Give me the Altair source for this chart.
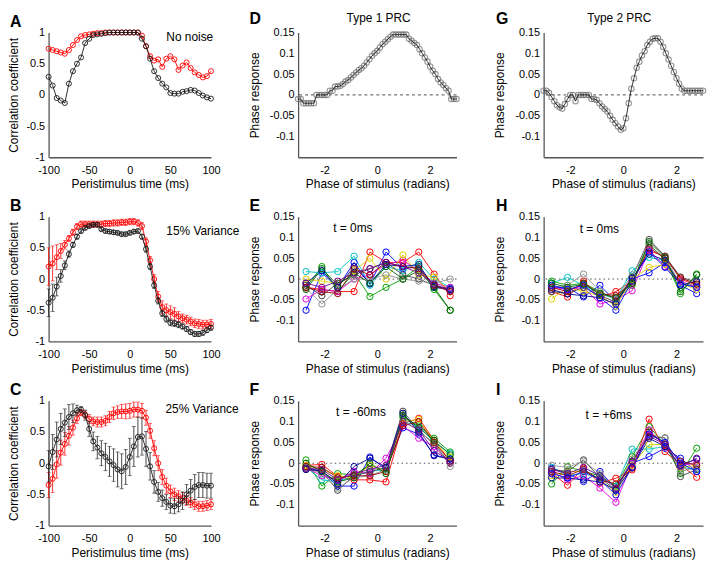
import altair as alt
import pandas as pd

FONT = "Liberation Sans"
RED = "#ff0000"
BLACK = "#1a1a1a"

# ---------------- data ----------------
TIME_MS = list(range(-100, 101, 5))          # peristimulus time grid (ms)
PRC_PHASE = [round(-3.0 + 0.1 * i, 1) for i in range(61)]   # phase grid (rad)
BIN_PHASE = [-2.7, -2.1, -1.5, -0.88, -0.28, 0.33, 0.97, 1.57, 2.15, 2.76]

A_black = [0.29, 0.15, -0.05, -0.09, -0.13, 0.18, 0.38, 0.5, 0.6, 0.83,
           0.9, 0.96, 0.97, 0.98, 0.99, 1.0, 1.0, 1.0, 1.0, 1.0,
           1.0, 1.0, 1.0, 0.9, 0.78, 0.58, 0.38, 0.27, 0.18, 0.12,
           0.03, 0.02, 0.02, 0.05, 0.06, 0.08, 0.07, 0.03, -0.01, -0.04,
           -0.06]
A_red = [0.74, 0.72, 0.7, 0.68, 0.66, 0.72, 0.8, 0.88, 0.94, 0.96,
         0.97, 0.98, 0.99, 0.99, 1.0, 1.0, 1.0, 1.0, 1.0, 1.0,
         1.0, 1.0, 1.0, 0.95, 0.78, 0.62, 0.55, 0.57, 0.45, 0.58,
         0.62, 0.57, 0.4, 0.47, 0.52, 0.43, 0.36, 0.32, 0.28, 0.3,
         0.38]

B_black = [-0.38, -0.3, -0.12, 0.05, 0.22, 0.4, 0.55, 0.68, 0.77, 0.82,
           0.85, 0.87, 0.87, 0.8, 0.77, 0.76, 0.75, 0.74, 0.72, 0.72,
           0.74, 0.76, 0.77, 0.68, 0.48, 0.2, -0.1, -0.35, -0.55, -0.64,
           -0.7, -0.71, -0.73, -0.76, -0.8, -0.85, -0.88, -0.88, -0.86, -0.82,
           -0.78]
B_black_err = [0.22, 0.22, 0.15, 0.1, 0.07, 0.05, 0.04, 0.04, 0.03, 0.03,
               0.03, 0.03, 0.03, 0.03, 0.03, 0.03, 0.03, 0.03, 0.03, 0.03,
               0.03, 0.03, 0.03, 0.04, 0.05, 0.05, 0.05, 0.05, 0.05, 0.05,
               0.05, 0.05, 0.05, 0.04, 0.04, 0.04, 0.04, 0.04, 0.04, 0.04,
               0.04]
B_red = [0.2, 0.25, 0.35, 0.45, 0.55, 0.65, 0.75, 0.84, 0.88, 0.88,
         0.88, 0.88, 0.88, 0.88, 0.89, 0.89, 0.9, 0.9, 0.91, 0.91,
         0.92, 0.92, 0.9, 0.85, 0.6, 0.3, 0.0, -0.28, -0.45, -0.5,
         -0.53, -0.56, -0.6, -0.63, -0.65, -0.68, -0.71, -0.72, -0.73, -0.73,
         -0.72]
B_red_err = [0.3, 0.28, 0.2, 0.12, 0.07, 0.05, 0.05, 0.05, 0.05, 0.05,
             0.05, 0.05, 0.05, 0.05, 0.05, 0.05, 0.05, 0.05, 0.05, 0.05,
             0.05, 0.05, 0.05, 0.06, 0.06, 0.06, 0.07, 0.08, 0.1, 0.1,
             0.1, 0.1, 0.08, 0.07, 0.07, 0.07, 0.07, 0.07, 0.07, 0.07,
             0.07]

C_black = [-0.05, 0.18, 0.38, 0.55, 0.65, 0.74, 0.8, 0.85, 0.86, 0.77,
           0.55, 0.35, 0.25, 0.16, 0.1, 0.03, -0.03, -0.1, -0.13, -0.06,
           0.1, 0.27, 0.42, 0.43, 0.23, -0.05, -0.3, -0.46, -0.56, -0.62,
           -0.68, -0.69, -0.66, -0.6, -0.5, -0.44, -0.38, -0.35, -0.35, -0.36,
           -0.36]
C_black_err = [0.25, 0.28, 0.28, 0.25, 0.22, 0.2, 0.15, 0.08, 0.05, 0.08,
               0.12, 0.15, 0.18, 0.2, 0.22, 0.24, 0.26, 0.28, 0.28, 0.28,
               0.3, 0.32, 0.32, 0.3, 0.28, 0.22, 0.18, 0.15, 0.13, 0.12,
               0.12, 0.12, 0.12, 0.14, 0.16, 0.18, 0.2, 0.2, 0.2, 0.2,
               0.2]
C_red = [-0.35, -0.25, -0.02, 0.17, 0.31, 0.44, 0.57, 0.72, 0.81, 0.78,
         0.71, 0.67, 0.66, 0.66, 0.68, 0.74, 0.8, 0.82, 0.83, 0.83,
         0.84, 0.86, 0.86, 0.84, 0.73, 0.52, 0.24, 0.0, -0.22, -0.36,
         -0.45, -0.5, -0.53, -0.56, -0.6, -0.63, -0.66, -0.69, -0.69, -0.68,
         -0.66]
C_red_err = [0.2, 0.22, 0.22, 0.2, 0.18, 0.15, 0.12, 0.08, 0.05, 0.06,
             0.07, 0.07, 0.08, 0.08, 0.08, 0.09, 0.1, 0.1, 0.11, 0.12,
             0.12, 0.12, 0.12, 0.12, 0.12, 0.12, 0.12, 0.12, 0.12, 0.12,
             0.1, 0.1, 0.09, 0.09, 0.08, 0.08, 0.08, 0.08, 0.08, 0.08,
             0.08]

D_prc = [-0.01, -0.01, -0.02, -0.02, -0.02, -0.02, -0.02, 0.0, 0.0, 0.0,
         0.0, 0.0, 0.01, 0.01, 0.02, 0.02, 0.022, 0.026, 0.032, 0.036,
         0.042, 0.048, 0.054, 0.06, 0.064, 0.07, 0.078, 0.086, 0.094, 0.1,
         0.106, 0.114, 0.122, 0.128, 0.134, 0.14, 0.145, 0.145, 0.145, 0.145,
         0.145, 0.145, 0.135, 0.13, 0.125, 0.12, 0.11, 0.1, 0.09, 0.08,
         0.068, 0.058, 0.05, 0.038, 0.03, 0.024, 0.016, 0.01, -0.01, -0.01,
         -0.01]
G_prc = [0.01, 0.01, 0.005, -0.005, -0.015, -0.025, -0.03, -0.033, -0.022, -0.01,
         0.0, 0.0, -0.015, 0.0, 0.0, 0.0, 0.0, 0.0, -0.01, -0.01,
         -0.012, -0.02, -0.028, -0.034, -0.04, -0.05, -0.06, -0.068, -0.076, -0.084,
         -0.08, -0.056, -0.02, 0.015, 0.04, 0.065, 0.08, 0.095, 0.105, 0.12,
         0.128, 0.135, 0.136, 0.136, 0.128, 0.115, 0.1, 0.085, 0.07, 0.055,
         0.04, 0.027, 0.015, 0.01, 0.01, 0.01, 0.01, 0.01, 0.01, 0.01,
         0.01]

SERIES_COLORS = {
    "blue": "#0000ff", "green": "#00a000", "red": "#ff0000", "cyan": "#00c0c0",
    "magenta": "#e000e0", "yellow": "#e0d000", "darkgray": "#404040",
    "gray": "#909090", "navy": "#000090", "darkred": "#900000",
    "darkgreen": "#006000", "purple": "#700090", "orange": "#ff8000",
}

E_series = {
    "blue":      [-0.075, 0.015, -0.02, 0.04, -0.012, 0.065, 0.025, 0.03, -0.018, -0.022],
    "green":     [-0.02, 0.03, -0.03, 0.015, -0.042, -0.02, 0.0, 0.03, -0.025, -0.075],
    "red":       [-0.02, -0.025, -0.03, -0.03, 0.065, 0.04, 0.04, 0.065, 0.012, -0.04],
    "cyan":      [0.018, 0.015, 0.018, 0.055, -0.015, 0.03, 0.02, 0.04, 0.0, -0.02],
    "magenta":   [-0.048, -0.025, -0.03, 0.0, 0.01, 0.035, 0.045, 0.02, -0.01, -0.02],
    "yellow":    [0.0, -0.005, -0.01, 0.02, 0.05, 0.0, 0.058, 0.01, 0.005, -0.03],
    "darkgray":  [-0.015, -0.04, -0.01, 0.01, 0.025, 0.04, 0.01, 0.0, -0.015, -0.025],
    "gray":      [-0.022, -0.06, -0.025, 0.0, 0.0, 0.01, 0.0, -0.005, -0.01, 0.0],
    "navy":      [-0.01, 0.02, -0.02, 0.03, -0.01, 0.035, 0.03, 0.035, -0.02, -0.025],
    "darkred":   [-0.02, -0.03, -0.035, 0.025, 0.01, 0.04, 0.03, 0.025, -0.015, -0.03],
    "darkgreen": [-0.025, 0.025, -0.015, 0.015, -0.01, 0.03, 0.0, 0.02, -0.02, -0.075],
    "purple":    [-0.01, -0.02, -0.005, 0.015, 0.025, 0.04, 0.03, 0.015, -0.012, -0.028],
}
F_series = {
    "blue":      [-0.01, -0.02, -0.055, -0.055, 0.015, -0.015, 0.085, 0.07, 0.02, 0.01],
    "green":     [0.008, -0.055, -0.025, -0.028, -0.005, -0.02, 0.11, 0.09, 0.06, 0.027],
    "red":       [-0.005, -0.003, -0.032, -0.04, -0.04, -0.045, 0.095, 0.108, 0.055, 0.005],
    "cyan":      [-0.01, -0.04, -0.045, -0.03, -0.02, -0.015, 0.1, 0.09, 0.05, 0.024],
    "magenta":   [-0.012, -0.03, -0.04, -0.02, -0.025, 0.012, 0.09, 0.06, 0.04, 0.0],
    "yellow":    [-0.005, -0.015, -0.03, -0.035, -0.005, -0.02, 0.1, 0.105, 0.05, 0.015],
    "darkgray":  [-0.015, -0.02, -0.065, -0.03, -0.02, -0.01, 0.125, 0.08, 0.045, 0.0],
    "gray":      [-0.01, -0.025, -0.06, -0.035, -0.03, -0.015, 0.12, 0.075, 0.05, -0.008],
    "navy":      [-0.015, -0.018, -0.05, -0.008, 0.012, -0.01, 0.12, 0.075, 0.018, 0.01],
    "darkred":   [-0.008, -0.01, -0.035, -0.03, -0.03, -0.02, 0.09, 0.1, 0.05, 0.005],
    "darkgreen": [0.0, -0.02, -0.045, -0.035, 0.0, -0.025, 0.115, 0.085, 0.055, 0.02],
    "purple":    [-0.012, -0.015, -0.04, -0.025, -0.015, -0.005, 0.1, 0.08, 0.03, 0.005],
}
H_series = {
    "blue":      [-0.02, -0.02, -0.043, -0.015, -0.055, 0.0, 0.015, 0.04, -0.015, -0.035],
    "green":     [-0.005, -0.015, -0.01, -0.03, -0.05, -0.015, 0.085, 0.045, -0.035, 0.012],
    "red":       [-0.03, -0.043, -0.005, -0.045, -0.03, -0.005, 0.068, 0.055, 0.0, -0.015],
    "cyan":      [-0.01, 0.004, -0.015, -0.035, -0.048, 0.02, 0.052, 0.045, -0.01, -0.02],
    "magenta":   [-0.02, -0.025, -0.02, -0.06, -0.05, -0.028, 0.07, 0.03, -0.005, -0.02],
    "yellow":    [-0.048, -0.02, -0.03, -0.04, -0.065, 0.0, 0.028, 0.035, -0.01, -0.025],
    "darkgray":  [-0.03, -0.035, -0.02, -0.04, -0.055, 0.004, 0.095, 0.055, 0.005, -0.008],
    "gray":      [-0.02, -0.015, 0.012, -0.03, -0.05, 0.01, 0.08, 0.05, -0.01, -0.015],
    "navy":      [-0.025, -0.036, -0.04, -0.045, -0.06, 0.002, 0.06, 0.045, -0.015, -0.005],
    "darkred":   [-0.02, -0.03, -0.01, -0.035, -0.04, -0.01, 0.075, 0.05, 0.003, -0.012],
    "orange":    [-0.015, -0.025, -0.015, -0.045, -0.075, -0.005, 0.065, 0.028, -0.012, -0.02],
    "darkgreen": [-0.01, -0.02, -0.012, -0.035, -0.045, -0.01, 0.09, 0.052, -0.03, 0.01],
}
I_series = {
    "blue":      [-0.012, -0.025, -0.044, -0.02, -0.06, 0.0, 0.016, 0.036, 0.012, -0.02],
    "green":     [-0.05, -0.008, -0.02, -0.03, -0.055, 0.016, 0.088, 0.045, -0.025, 0.036],
    "red":       [-0.024, -0.053, -0.012, -0.048, -0.036, -0.016, 0.106, 0.028, -0.004, -0.034],
    "cyan":      [-0.01, -0.03, -0.025, -0.035, -0.055, 0.034, 0.034, 0.04, -0.01, -0.015],
    "magenta":   [-0.02, -0.04, -0.03, -0.06, -0.094, 0.0, 0.08, 0.04, -0.005, 0.0],
    "yellow":    [-0.03, -0.02, -0.02, -0.04, -0.07, -0.005, 0.045, 0.045, -0.01, -0.005],
    "darkgray":  [-0.015, -0.02, 0.008, -0.035, -0.065, 0.005, 0.064, 0.061, -0.032, -0.015],
    "gray":      [-0.005, -0.01, 0.005, -0.025, -0.06, 0.01, 0.07, 0.06, -0.02, -0.01],
    "navy":      [-0.035, -0.036, -0.04, -0.045, -0.064, -0.01, 0.06, 0.04, -0.005, 0.01],
    "darkred":   [-0.02, -0.03, -0.015, -0.04, -0.05, -0.012, 0.075, 0.045, 0.005, -0.005],
    "orange":    [-0.025, -0.035, -0.02, -0.04, -0.076, -0.01, 0.07, 0.05, 0.0, -0.02],
    "purple":    [-0.015, -0.025, -0.01, -0.03, -0.06, 0.005, 0.065, 0.045, -0.008, 0.012],
}

# annotation texts: (text, x, y)
NOTE_A = ("No noise", 45, 0.92)
NOTE_B = ("15% Variance", 45, 0.77)
NOTE_C = ("25% Variance", 44, 0.87)
NOTE_D = ("Type 1 PRC", 0.05, 0.186)
NOTE_G = ("Type 2 PRC", -0.15, 0.186)
NOTE_E = ("t = 0ms", -1.67, 0.123)
NOTE_F = ("t = -60ms", -1.56, 0.123)
NOTE_H = ("t = 0ms", -1.64, 0.12)
NOTE_I = ("t = +6ms", -1.42, 0.117)

# ---------------- layout ----------------
W1, W2, W3, H = 164, 160, 161, 126
MINUS = "replace(datum.label, '\u2212', '-')"

X_TIME_AXIS = alt.Axis(values=[-100, -50, 0, 50, 100], format="d", labelExpr=MINUS,
                       title="Peristimulus time (ms)", labelPadding=7, titlePadding=4)
Y_CORR_AXIS = alt.Axis(values=[-1, -0.5, 0, 0.5, 1], format=".1~f", labelExpr=MINUS,
                       title="Correlation coefficient", titlePadding=5)
X_PH_AXIS = alt.Axis(values=[-2, 0, 2], format="d", labelExpr=MINUS,
                     title="Phase of stimulus (radians)", labelPadding=7, titlePadding=4)
Y_PH_AXIS = alt.Axis(values=[-0.1, -0.05, 0, 0.05, 0.1, 0.15], format=".2~f",
                     labelExpr=MINUS, title="Phase response", titlePadding=8)

T_SCALE = alt.Scale(domain=[-100, 100], nice=False, zero=False)
C_SCALE = alt.Scale(domain=[-1, 1], nice=False, zero=False)
PH_SCALE = alt.Scale(domain=[-3, 3], nice=False, zero=False)
PR_SCALE = alt.Scale(domain=[-0.15, 0.15], nice=False, zero=False)


def letter_title(letter, dx, dy):
    return alt.TitleParams(text=letter, anchor="start", frame="group", dx=dx, dy=dy,
                           offset=4, fontSize=16, fontWeight="bold", font=FONT)


def note_layer(note, xscale, xaxis, yscale, yaxis, align="left"):
    txt, nx, ny = note
    d = pd.DataFrame({"x": [nx], "y": [ny], "label": [txt]})
    return alt.Chart(d).mark_text(align=align, baseline="middle", fontSize=12,
                                  font=FONT, color="#000").encode(
        x=alt.X("x:Q", scale=xscale, axis=xaxis),
        y=alt.Y("y:Q", scale=yscale, axis=yaxis),
        text="label:N")


def corr_panel(letter, red, black, red_err, black_err, note):
    df = pd.DataFrame({"t": TIME_MS, "red": red, "black": black})
    x = alt.X("t:Q", scale=T_SCALE, axis=X_TIME_AXIS)

    def Y(f):
        return alt.Y(f + ":Q", scale=C_SCALE, axis=Y_CORR_AXIS)

    layers = []
    series = [("red", red, red_err, RED), ("black", black, black_err, BLACK)]
    for name, vals, err, col in series:
        if err is not None:
            df[name + "_lo"] = [v - e for v, e in zip(vals, err)]
            df[name + "_hi"] = [v + e for v, e in zip(vals, err)]
            layers.append(alt.Chart(df).mark_errorbar(
                color=col, thickness=0.8, ticks={"size": 4, "thickness": 0.8}).encode(
                x=x, y=Y(name + "_lo"), y2=alt.Y2(name + "_hi:Q")))
        layers.append(alt.Chart(df).mark_line(
            color=col, strokeWidth=0.9,
            point=alt.OverlayMarkDef(filled=False, color=col, size=26, strokeWidth=0.9)
        ).encode(x=x, y=Y(name)))
    layers.append(note_layer(note, T_SCALE, X_TIME_AXIS, C_SCALE, Y_CORR_AXIS))
    return alt.layer(*layers).properties(width=W1, height=H,
                                         title=letter_title(letter, -39, 7))


def zero_layer(dash):
    return alt.Chart(pd.DataFrame({"z": [0]})).mark_rule(
        color="#222", strokeDash=dash, strokeWidth=0.8).encode(
        y=alt.Y("z:Q", scale=PR_SCALE, axis=Y_PH_AXIS))


def prc_panel(letter, values, dx, header, width):
    df = pd.DataFrame({"phase": PRC_PHASE, "resp": values})
    x = alt.X("phase:Q", scale=PH_SCALE, axis=X_PH_AXIS)
    y = alt.Y("resp:Q", scale=PR_SCALE, axis=Y_PH_AXIS)
    pts = alt.Chart(df).mark_point(shape="circle", filled=False, color="#6a6a6a",
                                   size=30, strokeWidth=1.1).encode(x=x, y=y)
    line = alt.Chart(df).mark_line(color="#000", strokeWidth=0.8).encode(x=x, y=y)
    hdr = note_layer(header, PH_SCALE, X_PH_AXIS, PR_SCALE, Y_PH_AXIS, align="center")
    return alt.layer(zero_layer([3, 3]), pts, line, hdr).properties(
        width=width, height=H, title=letter_title(letter, dx, 20))


def multi_panel(letter, series, dx, note, width):
    rows = []
    for name, vals in series.items():
        for ph, v in zip(BIN_PHASE, vals):
            rows.append({"phase": ph, "resp": v, "series": name})
    df = pd.DataFrame(rows)
    names = list(series.keys())
    cols = [SERIES_COLORS[n] for n in names]
    lines = alt.Chart(df).mark_line(
        strokeWidth=0.9,
        point=alt.OverlayMarkDef(filled=False, size=40, strokeWidth=1)
    ).encode(
        x=alt.X("phase:Q", scale=PH_SCALE, axis=X_PH_AXIS),
        y=alt.Y("resp:Q", scale=PR_SCALE, axis=Y_PH_AXIS),
        color=alt.Color("series:N", scale=alt.Scale(domain=names, range=cols), legend=None),
    )
    txt = note_layer(note, PH_SCALE, X_PH_AXIS, PR_SCALE, Y_PH_AXIS)
    return alt.layer(zero_layer([1.5, 3]), lines, txt).properties(
        width=width, height=H, title=letter_title(letter, dx, 7))


pA = corr_panel("A", A_red, A_black, None, None, NOTE_A)
pB = corr_panel("B", B_red, B_black, B_red_err, B_black_err, NOTE_B)
pC = corr_panel("C", C_red, C_black, C_red_err, C_black_err, NOTE_C)
pD = prc_panel("D", D_prc, -49, NOTE_D, W2)
pG = prc_panel("G", G_prc, -48, NOTE_G, W3)
pE = multi_panel("E", E_series, -49, NOTE_E, W2)
pF = multi_panel("F", F_series, -49, NOTE_F, W2)
pH = multi_panel("H", H_series, -48, NOTE_H, W3)
pI = multi_panel("I", I_series, -48, NOTE_I, W3)

chart = alt.concat(
    pA, pD, pG, pB, pE, pH, pC, pF, pI,
    columns=3, spacing={"row": 60, "column": 88}, bounds="flush", align="each",
).properties(
    padding={"left": 0, "top": 0, "right": 0, "bottom": 0}
).configure_view(stroke=None).configure_axis(
    grid=False, domainColor="#555", domainWidth=1.3, ticks=False, labelFlush=False,
    labelFont=FONT, labelFontSize=11, labelColor="#000", labelPadding=4,
    titleFont=FONT, titleFontSize=12, titleFontWeight="normal", titleColor="#000",
).configure_title(font=FONT, color="#000")

chart.save("out.html", embed_options={"renderer": "svg", "actions": False})
